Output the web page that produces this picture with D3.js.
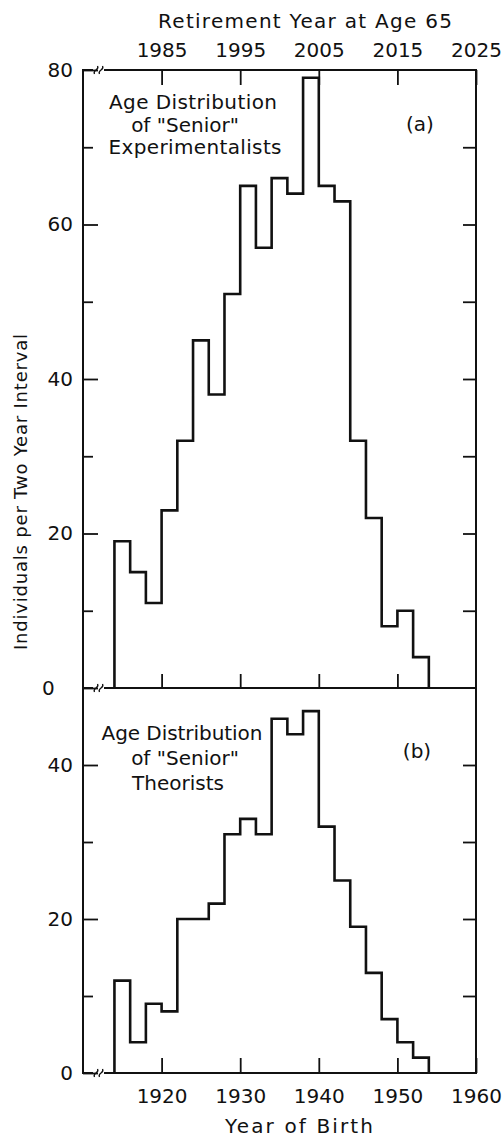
<!DOCTYPE html>
<html>
<head>
<meta charset="utf-8">
<script src="https://cdn.jsdelivr.net/npm/d3@7"></script>
<style>
  html, body { margin: 0; padding: 0; background: #fff; }
  svg { display: block; }
  text { font-family: "DejaVu Sans", sans-serif; fill: #111; }
</style>
</head>
<body>
<script>
// Two-year birth-year bins (left edge of each bin)
const birthYearBins = [1914, 1916, 1918, 1920, 1922, 1924, 1926, 1928, 1930, 1932,
                       1934, 1936, 1938, 1940, 1942, 1944, 1946, 1948, 1950, 1952];
const binEnd = 1954;

// Individuals per two-year interval
const experimentalists = [19, 15, 11, 23, 32, 45, 38, 51, 65, 57,
                          66, 64, 79, 65, 63, 32, 22, 8, 10, 4];
const theorists = [12, 4, 9, 8, 20, 20, 22, 31, 33, 31,
                   46, 44, 47, 32, 25, 19, 13, 7, 4, 2];

// Axis ticks
const birthTicks = [1920, 1930, 1940, 1950, 1960];
const retirementTicks = [1985, 1995, 2005, 2015, 2025];
const topMajorTicks = [0, 20, 40, 60, 80];
const topMinorTicks = [10, 30, 50, 70];
const topRightTicks = [10, 20, 30, 40, 50, 60, 70];
const bottomMajorTicks = [0, 20, 40];
const bottomMinorTicks = [10, 30];
const bottomRightTicks = [10, 20, 30, 40];

const W = 504, H = 1137;
const svg = d3.select("body").append("svg").attr("width", W).attr("height", H);

const left = 83, right = 476;
const x = d3.scaleLinear().domain([1910, 1960]).range([left, right]);
const xRet = d3.scaleLinear().domain([1975, 2025]).range([left, right]);
const yTop = d3.scaleLinear().domain([0, 80]).range([688, 70]);
const yBot = d3.scaleLinear().domain([0, 50]).range([1073, 688]);

const ink = "#111";

function styleAxis(g, fontSize) {
  g.select(".domain").remove();
  g.selectAll(".tick line").attr("stroke", ink).attr("stroke-width", 1.8);
  g.selectAll("text").attr("font-size", fontSize).attr("font-family", "DejaVu Sans").attr("fill", ink);
}

// ---- panel frames ----
[[yTop, 80], [yBot, 50]].forEach(([y, top]) => {
  svg.append("rect")
    .attr("x", x(1910)).attr("y", y(top))
    .attr("width", x(1960) - x(1910)).attr("height", y(0) - y(top))
    .attr("fill", "none").attr("stroke", ink).attr("stroke-width", 2);
});

// ---- axis-break squiggles on the horizontal lines near the origin ----
function breakMark(yPos) {
  const g = svg.append("g");
  g.append("rect").attr("x", 93).attr("y", yPos - 2).attr("width", 11).attr("height", 4).attr("fill", "#fff");
  [96, 101].forEach(cx => {
    g.append("path")
      .attr("d", `M${cx - 1.5},${yPos + 4} C${cx - 4},${yPos} ${cx + 4},${yPos} ${cx + 1.5},${yPos - 4}`)
      .attr("fill", "none").attr("stroke", ink).attr("stroke-width", 1.3);
  });
}
breakMark(yTop(80));
breakMark(yTop(0));
breakMark(yBot(0));

// ---- top panel axes ----
svg.append("g").attr("transform", `translate(${left},0)`)
  .call(d3.axisLeft(yTop).tickValues(topMajorTicks).tickSize(-15).tickPadding(10).tickFormat(d3.format("d")))
  .call(g => styleAxis(g, 20))
  .call(g => g.selectAll(".tick text").filter(d => d === 0).attr("text-anchor", "start").attr("x", -41));
svg.append("g").attr("transform", `translate(${left},0)`)
  .call(d3.axisLeft(yTop).tickValues(topMinorTicks).tickSize(-10).tickFormat(""))
  .call(g => styleAxis(g, 20));
svg.append("g").attr("transform", `translate(${right},0)`)
  .call(d3.axisRight(yTop).tickValues(topRightTicks).tickSize(-13).tickFormat(""))
  .call(g => styleAxis(g, 20));
svg.append("g").attr("transform", `translate(0,${yTop(80)})`)
  .call(d3.axisTop(xRet).tickValues(retirementTicks).tickSize(-15).tickPadding(13).tickFormat(d3.format("d")))
  .call(g => styleAxis(g, 20));
svg.append("g").attr("transform", `translate(0,${yTop(0)})`)
  .call(d3.axisBottom(x).tickValues(birthTicks.slice(0, 4)).tickSize(-14).tickFormat(""))
  .call(g => styleAxis(g, 20));

// ---- bottom panel axes ----
svg.append("g").attr("transform", `translate(${left},0)`)
  .call(d3.axisLeft(yBot).tickValues(bottomMajorTicks).tickSize(-15).tickPadding(10).tickFormat(d3.format("d")))
  .call(g => styleAxis(g, 20));
svg.append("g").attr("transform", `translate(${left},0)`)
  .call(d3.axisLeft(yBot).tickValues(bottomMinorTicks).tickSize(-10).tickFormat(""))
  .call(g => styleAxis(g, 20));
svg.append("g").attr("transform", `translate(${right},0)`)
  .call(d3.axisRight(yBot).tickValues(bottomRightTicks).tickSize(-13).tickFormat(""))
  .call(g => styleAxis(g, 20));
svg.append("g").attr("transform", `translate(0,${yBot(0)})`)
  .call(d3.axisBottom(x).tickValues(birthTicks).tickSize(-15).tickPadding(16).tickFormat(d3.format("d")))
  .call(g => styleAxis(g, 20));

// ---- histograms as step outlines ----
function stepPoints(values) {
  const pts = [{ year: birthYearBins[0], v: 0 }];
  birthYearBins.forEach((yr, i) => pts.push({ year: yr, v: values[i] }));
  pts.push({ year: binEnd, v: 0 });
  return pts;
}
[[experimentalists, yTop], [theorists, yBot]].forEach(([vals, y]) => {
  const line = d3.line().x(d => x(d.year)).y(d => y(d.v)).curve(d3.curveStepAfter);
  svg.append("path")
    .attr("d", line(stepPoints(vals)))
    .attr("fill", "none").attr("stroke", ink)
    .attr("stroke-width", 2.6).attr("stroke-linejoin", "miter");
});

// ---- titles and labels ----
function label(txt, cx, by, size, len, rotate) {
  const t = svg.append("text").attr("text-anchor", "middle").attr("font-size", size).text(txt);
  if (rotate) {
    t.attr("transform", `translate(${cx},${by}) rotate(-90)`);
  } else {
    t.attr("x", cx).attr("y", by);
  }
  if (len) t.attr("textLength", len).attr("lengthAdjust", "spacing");
  return t;
}

label("Retirement Year at Age 65", 305, 28, 20, 294);
label("Year of Birth", 299, 1133, 20, 148);
label("Individuals per Two Year Interval", 27, 492, 18, 316, true);

label("Age Distribution", 193, 109, 20, 168);
label("of \"Senior\"", 185, 132, 20);
label("Experimentalists", 195, 154, 20, 173);
label("(a)", 420, 131, 20);

label("Age Distribution", 182, 740, 20, 161);
label("of \"Senior\"", 185, 765, 20);
label("Theorists", 178, 790, 20);
label("(b)", 417, 758, 20);
</script>
</body>
</html>
